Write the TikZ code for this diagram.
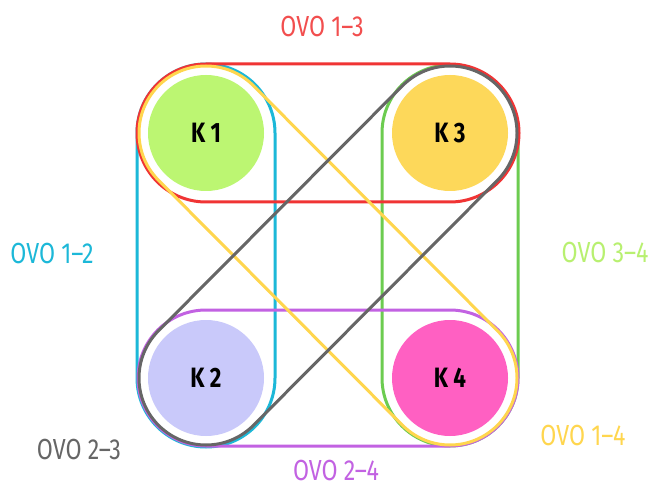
\documentclass[tikz,border=0pt]{standalone}
\usepackage{fontspec}
\setmainfont{Fira Sans}
\newfontfamily\ovofont[FakeStretch=0.8]{Fira Sans}
\usepackage{tikz}
\usetikzlibrary{calc}

\definecolor{kgreen}{HTML}{BCF672}
\definecolor{kyellow}{HTML}{FDD85A}
\definecolor{klilac}{HTML}{C9C9FA}
\definecolor{kpink}{HTML}{FF60C2}
\definecolor{ovored}{HTML}{F03434}
\definecolor{ovocyan}{HTML}{1CB8D8}
\definecolor{ovogreen}{HTML}{6CCC50}
\definecolor{ovopurple}{HTML}{C262E2}
\definecolor{ovogray}{HTML}{666666}
\definecolor{ovoyellow}{HTML}{FFD64E}
\definecolor{tagred}{HTML}{F24E4E}
\definecolor{taggreen}{HTML}{B8F070}

% one ring round two circles: colour, from, to, direction, radius
\newcommand{\ovoring}[5]{%
  \draw[ovo, #1] ($(#2)+({#4-90}:#5)$) -- ($(#3)+({#4-90}:#5)$)
    arc[start angle={#4-90}, delta angle=180, radius=#5]
    -- ($(#2)+({#4+90}:#5)$)
    arc[start angle={#4+90}, delta angle=180, radius=#5] -- cycle;}

\begin{document}
\begin{tikzpicture}[x=1pt, y=1pt,
  kbox/.style={circle, minimum size=116pt, inner sep=0pt,
    font=\ovofont\fontsize{28}{28}\selectfont\bfseries},
  ovo/.style={line width=3pt, line join=round},
  tag/.style={inner sep=1pt, font=\ovofont\fontsize{29}{29}\selectfont}]
\useasboundingbox (0,0) rectangle (653,488);
\fill[white] (0,0) rectangle (653,488);

\coordinate (c1) at (206,355);
\coordinate (c3) at (450,355);
\coordinate (c2) at (206,110);
\coordinate (c4) at (450,110);

% rings
\ovoring{ovocyan}{c1}{c2}{-90}{69}
\ovoring{ovogreen}{c3}{c4}{-90}{68}
\ovoring{ovopurple}{c2}{c4}{0}{68}
\ovoring{ovored}{c1}{c3}{0}{69}
\ovoring{ovoyellow}{c1}{c4}{-45}{67}
\ovoring{ovogray}{c2}{c3}{45}{67}

% circles
\node[kbox, fill=kgreen] (k1) at (c1) {K 1};
\node[kbox, fill=kyellow] (k3) at (c3) {K 3};
\node[kbox, fill=klilac] (k2) at (c2) {K 2};
\node[kbox, fill=kpink] (k4) at (c4) {K 4};

% labels
\node[tag, text=tagred] (t13) at (322,461) {OVO 1–3};
\node[tag, text=ovocyan] (t12) at (52,234) {OVO 1–2};
\node[tag, text=taggreen] (t34) at (605,235) {OVO 3–4};
\node[tag, text=ovogray] (t23) at (79,38) {OVO 2–3};
\node[tag, text=ovoyellow] (t14) at (583,52) {OVO 1–4};
\node[tag, text=ovopurple] (t24) at (336,17) {OVO 2–4};
\end{tikzpicture}
\end{document}
